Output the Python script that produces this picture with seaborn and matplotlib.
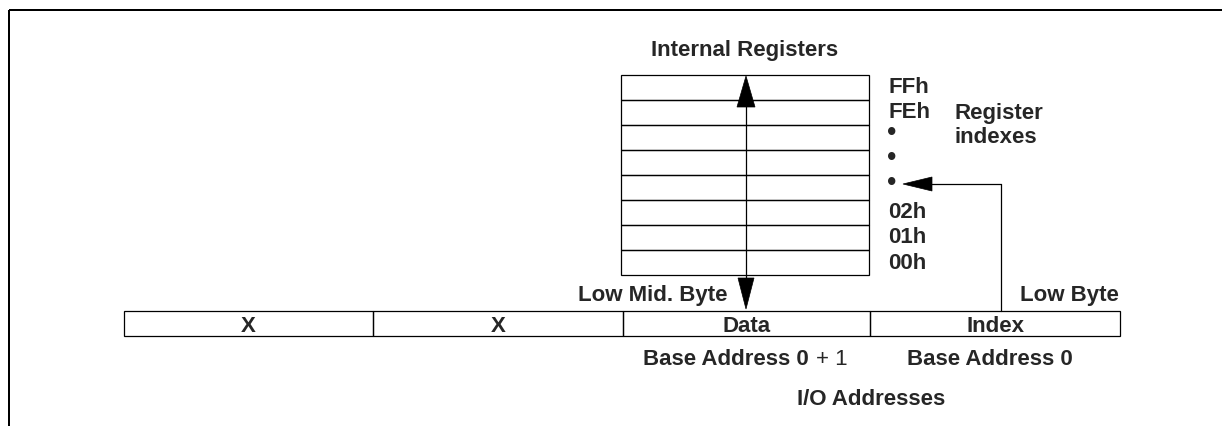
import matplotlib
matplotlib.use("Agg")
import matplotlib.pyplot as plt
from matplotlib.patches import Rectangle, Polygon
import seaborn as sns

# ---- data (text content) ----
title_registers = "Internal Registers"
register_labels = ["FFh", "FEh", "\u2022", "\u2022", "\u2022", "02h", "01h", "00h"]
register_note = ["Register", "indexes"]
field_labels = ["X", "X", "Data", "Index"]
byte_labels = ["Low Mid. Byte", "Low Byte"]
address_bold = ["Base Address 0", "Base Address 0"]
address_suffix = "+ 1"
footer = "I/O Addresses"

# ---- layout (pixel coordinates) ----
W, H = 1222, 427
FS = 16
CAP = 7.8  # half cap height in px
LW_FRAME = 2 * 0.72
LW = 1.25 * 0.72
FONT = ["Liberation Sans", "DejaVu Sans"]

sns.set_theme(style="white")
plt.rcParams["font.family"] = FONT

fig = plt.figure(figsize=(W / 100, H / 100), dpi=100)
ax = fig.add_axes([0, 0, 1, 1])
ax.set_xlim(0, W)
ax.set_ylim(H, 0)
ax.axis("off")

# frame (top and left)
ax.plot([9, W], [11, 11], color="black", lw=LW_FRAME, solid_capstyle="butt")
ax.plot([9, 9], [11, H], color="black", lw=LW_FRAME, solid_capstyle="butt")

# register table
TX0, TX1, TY0, RH = 621, 869, 76, 25
n_rows = len(register_labels)
for i in range(n_rows):
    ax.add_patch(Rectangle((TX0, TY0 + i * RH), TX1 - TX0, RH, fill=False,
                           edgecolor="black", lw=LW))

# address row
AY0, AY1 = 312, 337
bounds = [124, 373, 623, 870, 1120]
for i in range(len(field_labels)):
    ax.add_patch(Rectangle((bounds[i], AY0), bounds[i + 1] - bounds[i], AY1 - AY0,
                           fill=False, edgecolor="black", lw=LW))
    ax.text((bounds[i] + bounds[i + 1]) / 2, (AY0 + AY1) / 2 + CAP, field_labels[i],
            ha="center", va="baseline", fontsize=FS, fontweight="bold")

def head(tip, base, hw, vertical=True):
    if vertical:
        pts = [(tip[0], tip[1]), (tip[0] - hw, base), (tip[0] + hw, base)]
    else:
        pts = [(tip[0], tip[1]), (base, tip[1] - hw), (base, tip[1] + hw)]
    ax.add_patch(Polygon(pts, closed=True, facecolor="black", edgecolor="black", lw=0.5))

# data double arrow
AX = 746
ax.plot([AX, AX], [100, 285], color="black", lw=LW)
head((AX, 77), 108, 9)
head((AX, 310), 279, 8)

# index arrow
IX = 1001
ax.plot([IX, IX], [AY0, 185], color="black", lw=LW)
ax.plot([IX, 925], [185, 185], color="black", lw=LW)
head((903, 185), 932, 7, vertical=False)

# texts
ax.text(745, 48 + CAP, title_registers, ha="center", va="baseline",
        fontsize=FS, fontweight="bold")
label_y = [85, 110, 134, 159, 184, 210, 235, 261]
for lab, y in zip(register_labels, label_y):
    if lab == "\u2022":
        ax.text(885, y + 5.5, lab, ha="left", va="baseline", fontsize=15,
                fontweight="bold", family=["DejaVu Sans"])
    else:
        ax.text(888, y + CAP, lab, ha="left", va="baseline", fontsize=FS,
                fontweight="bold")
ax.text(954, 111 + CAP, register_note[0], ha="left", va="baseline", fontsize=FS, fontweight="bold")
ax.text(954, 135 + CAP, register_note[1], ha="left", va="baseline", fontsize=FS, fontweight="bold")

ax.text(728, 293 + CAP, byte_labels[0], ha="right", va="baseline", fontsize=FS, fontweight="bold")
ax.text(1119, 293 + CAP, byte_labels[1], ha="right", va="baseline", fontsize=FS, fontweight="bold")

# "Base Address 0 + 1" : bold part then regular suffix, centred on the reference span
fig.canvas.draw()
r = fig.canvas.get_renderer()
t_bold = ax.text(0, 357 + CAP, address_bold[0], ha="left", va="baseline",
                 fontsize=FS, fontweight="bold")
t_suf = ax.text(0, 357 + CAP, address_suffix, ha="left", va="baseline", fontsize=FS)
wb = t_bold.get_window_extent(r).width
ws = t_suf.get_window_extent(r).width
gap = 7
total = wb + gap + ws
start = 745 - total / 2
t_bold.set_x(start)
t_suf.set_x(start + wb + gap)

ax.text(907, 357 + CAP, address_bold[1], ha="left", va="baseline", fontsize=FS, fontweight="bold")

ax.text(871, 397 + CAP, footer, ha="center", va="baseline", fontsize=FS, fontweight="bold")

fig.savefig("out.png", dpi=100, facecolor="white")
